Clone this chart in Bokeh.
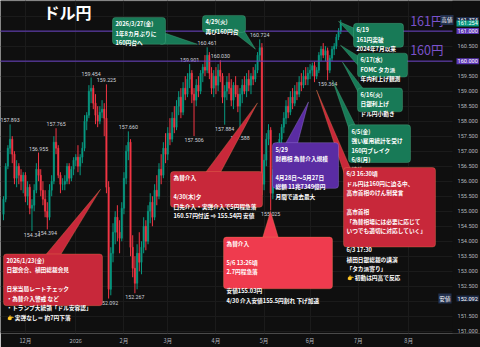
import pandas as pd
from bokeh.plotting import figure
from bokeh.models import (Range1d, FixedTicker, Label, LabelSet, BoxAnnotation,
                          PolyAnnotation, ColumnDataSource, Span)
from bokeh.embed import file_html
from bokeh.resources import INLINE
from bokeh.core.properties import value

# ---------------- data ----------------
dates = pd.bdate_range("2025-11-17", "2026-06-19")  # daily bars (weekdays)

opens = [154.9, 155.4, 156.5, 157.1, 157.4, 156.9, 156.1, 156.5, 156.2, 156.0,
         156.2, 155.5, 155.8, 155.1, 155.2, 155.7, 156.4, 156.2, 155.7, 155.4,
         155.0, 154.8, 155.7, 156.0, 157.3, 157.1, 156.2, 155.9, 155.9, 156.0,
         156.5, 156.1, 156.4, 156.7, 156.8, 156.5, 156.8, 157.1, 158.0, 158.2,
         159.0, 159.1, 158.6, 158.2, 158.0, 158.3, 158.4, 158.1, 155.8, 152.4,
         153.6, 154.3, 154.8, 154.3, 154.1, 155.1, 156.1, 157.0, 157.3, 153.8,
         153.1, 152.6, 153.6, 153.3, 153.8, 154.5, 154.0, 155.0, 155.3, 154.8,
         155.7, 155.5, 156.4, 156.2, 157.1, 156.9, 157.6, 157.4, 158.1, 157.8,
         158.5, 158.8, 158.3, 159.1, 158.9, 159.4, 159.6, 158.9, 158.7, 159.2,
         159.0, 159.6, 159.8, 159.7, 160.2, 159.6, 159.1, 159.5, 159.2, 159.7,
         159.5, 158.8, 159.0, 159.3, 159.1, 158.7, 159.2, 158.9, 158.5, 158.9,
         159.2, 159.0, 159.4, 159.2, 159.5, 159.4, 159.7, 160.2, 160.45, 155.9,
         156.7, 157.4, 157.7, 155.6, 156.2, 156.4, 157.1, 157.4, 157.8, 158.1,
         158.5, 158.3, 158.8, 158.6, 159.0, 158.9, 159.3, 159.2, 159.5, 159.4,
         159.6, 159.7, 159.85, 159.5, 159.7, 160.2, 160.4, 160.2, 160.35, 159.7,
         160.1, 160.4, 160.5, 160.8, 161.0]
highs = [155.5, 156.6, 157.2, 157.893, 157.5, 157.0, 156.7, 156.6, 156.4, 156.3,
         156.3, 156.0, 155.9, 155.4, 155.9, 156.6, 156.955, 156.4, 156.0, 155.7,
         155.3, 155.9, 156.2, 157.5, 157.765, 157.2, 156.3, 156.1, 156.2, 156.6,
         156.6, 156.5, 156.8, 156.9, 157.2, 156.9, 157.3, 158.2, 158.3, 159.2,
         159.454, 159.2, 158.9, 158.5, 158.5, 158.7, 158.6, 159.225, 156.0, 153.8,
         154.6, 155.0, 155.2, 154.7, 155.3, 156.3, 157.2, 157.66, 157.4, 154.2,
         153.5, 153.9, 154.3, 154.0, 154.8, 154.7, 155.2, 155.6, 155.5, 155.9,
         156.2, 156.6, 156.9, 157.3, 157.6, 157.8, 158.1, 158.3, 158.5, 158.7,
         159.0, 159.1, 159.3, 159.5, 159.6, 159.901, 159.7, 159.1, 159.4, 159.5,
         159.7, 159.9, 160.2, 160.461, 160.3, 159.8, 159.7, 159.8, 159.9, 160.03,
         159.6, 159.2, 159.5, 159.6, 159.4, 159.3, 159.5, 159.2, 159.1, 159.4,
         159.5, 159.6, 159.7, 159.6, 159.8, 159.9, 160.3, 160.724, 160.6, 156.9,
         157.6, 157.9, 157.8, 156.4, 156.6, 157.3, 157.6, 157.9, 158.3, 158.7,
         158.8, 159.0, 159.1, 159.2, 159.3, 159.5, 159.6, 159.7, 159.8, 159.8,
         159.9, 159.95, 159.98, 159.8, 160.3, 160.5, 160.6, 160.5, 160.45, 160.2,
         160.5, 160.6, 160.9, 161.1, 161.374]
lows = [154.7, 155.3, 156.4, 156.9, 156.6, 155.9, 155.8, 155.9, 155.7, 155.6,
        155.3, 155.2, 154.9, 154.34, 155.0, 155.6, 156.0, 155.5, 155.2, 154.8,
        154.394, 154.7, 155.5, 155.9, 156.9, 156.1, 155.6, 155.7, 155.7, 155.9,
        155.9, 156.0, 156.2, 156.5, 156.3, 156.2, 156.6, 157.0, 157.7, 158.1,
        158.6, 158.4, 157.9, 157.8, 157.9, 158.1, 157.5, 155.6, 152.092, 152.2,
        153.3, 153.9, 154.0, 153.6, 154.0, 154.9, 155.9, 156.7, 153.5, 152.8,
        152.267, 152.4, 153.0, 152.9, 153.6, 153.7, 153.9, 154.6, 154.5, 154.7,
        155.2, 155.4, 155.9, 156.1, 156.6, 156.7, 157.2, 157.3, 157.6, 157.7,
        158.2, 158.1, 158.2, 158.7, 158.8, 159.1, 158.6, 157.506, 158.5, 158.8,
        158.9, 159.3, 159.5, 159.6, 159.4, 158.9, 158.8, 158.9, 159.0, 159.3,
        158.6, 157.884, 158.7, 158.9, 158.5, 158.4, 158.8, 158.3, 157.588, 158.6,
        158.9, 158.8, 159.0, 158.9, 159.2, 159.3, 159.6, 160.0, 155.54, 155.7,
        156.5, 157.2, 155.025, 155.4, 155.9, 156.3, 156.8, 157.2, 157.6, 157.9,
        158.1, 158.2, 158.4, 158.5, 158.7, 158.8, 159.0, 159.1, 159.2, 159.2,
        159.4, 159.5, 159.3, 159.4, 159.6, 160.0, 160.1, 160.0, 159.364, 159.6,
        160.0, 160.2, 160.4, 160.7, 160.9]
closes = [155.4, 156.5, 157.1, 157.4, 156.9, 156.1, 156.5, 156.2, 156.0, 156.2,
          155.5, 155.8, 155.1, 155.2, 155.7, 156.4, 156.2, 155.7, 155.4, 155.0,
          154.8, 155.7, 156.0, 157.3, 157.1, 156.2, 155.9, 155.9, 156.0, 156.5,
          156.1, 156.4, 156.7, 156.8, 156.5, 156.8, 157.1, 158.0, 158.2, 159.0,
          159.1, 158.6, 158.2, 158.0, 158.3, 158.4, 158.1, 155.8, 152.4, 153.6,
          154.3, 154.8, 154.3, 154.1, 155.1, 156.1, 157.0, 157.3, 153.8, 153.1,
          152.6, 153.6, 153.3, 153.8, 154.5, 154.0, 155.0, 155.3, 154.8, 155.7,
          155.5, 156.4, 156.2, 157.1, 156.9, 157.6, 157.4, 158.1, 157.8, 158.5,
          158.8, 158.3, 159.1, 158.9, 159.4, 159.6, 158.9, 158.7, 159.2, 159.0,
          159.6, 159.8, 159.7, 160.2, 159.6, 159.1, 159.5, 159.2, 159.7, 159.5,
          158.8, 159.0, 159.3, 159.1, 158.7, 159.2, 158.9, 158.5, 158.9, 159.2,
          159.0, 159.4, 159.2, 159.5, 159.4, 159.7, 160.2, 160.45, 155.9, 156.7,
          157.4, 157.7, 155.6, 156.2, 156.4, 157.1, 157.4, 157.8, 158.1, 158.5,
          158.3, 158.8, 158.6, 159.0, 158.9, 159.3, 159.2, 159.5, 159.4, 159.6,
          159.7, 159.85, 159.5, 159.7, 160.2, 160.4, 160.2, 160.35, 159.7, 160.1,
          160.4, 160.5, 160.8, 161.0, 161.254]

# high / low price marks
mark_idx = [3, 13, 16, 20, 24, 40, 47, 48, 57, 60, 85, 87, 93, 99, 101, 108, 117, 122, 148]
mark_price = [157.893, 154.34, 156.955, 154.394, 157.765, 159.454, 159.225, 152.092, 157.66,
              152.267, 159.901, 157.506, 160.461, 160.030, 157.884, 157.588, 160.724, 155.025, 159.364]
mark_text = ["157.893", "154.34", "156.955", "154.394", "157.765", "159.454", "159.225", "152.092",
             "157.660", "152.267", "159.901", "157.506", "160.461", "160.030", "157.884", "157.588",
             "160.724", "155.025", "159.364"]
mark_side = ["hi", "lo", "hi", "lo", "hi", "hi", "hi", "lo", "hi", "lo", "hi", "lo", "hi", "hi",
             "lo", "lo", "hi", "lo", "lo"]

month_labels = ["12月", "2026", "2月", "3月", "4月", "5月", "6月", "7月", "8月"]
month_starts = ["2025-12-01", "2026-01-01", "2026-02-02", "2026-03-02", "2026-04-01",
                "2026-05-01", "2026-06-01", "2026-07-01", "2026-08-03"]
price_ticks = [151.0, 151.5, 152.0, 152.5, 153.0, 153.5, 154.0, 154.5, 155.0, 155.5, 156.0,
               156.5, 157.0, 157.5, 158.0, 158.5, 159.0, 159.5, 160.0, 160.5, 161.0, 161.5, 162.0]
# price-scale labels that stay visible (the others sit under the coloured tags)
scale_labels = [151.0, 151.5, 152.5, 153.0, 153.5, 154.0, 154.5, 155.0, 155.5, 156.0, 156.5,
                157.0, 157.5, 158.0, 158.5, 159.0, 159.5, 160.5]
last_price = 161.254
period_high = 161.374
period_low = 152.092

# ---------------- layout helpers (pixel -> data) ----------------
BAR_PX = 2.19
X0_PX = 3.0
PX_PER_YEN = 30.2


def X(px):
    return (px - X0_PX) / BAR_PX


def Y(py):
    return 160.0 - (py - 61.0) / PX_PER_YEN


ext = pd.bdate_range("2025-11-17", "2026-08-31")
pos = {d.strftime("%Y-%m-%d"): i for i, d in enumerate(ext)}
month_idx = [pos[m] for m in month_starts]

BG = "#0f0f0f"
UP = "#089981"
DN = "#f23645"
JP = "Noto Sans CJK JP"
NUM = "Roboto"
AXC = "#b2b5be"

p = figure(width=480, height=347, output_backend="svg", toolbar_location=None,
           x_range=Range1d(X(0), X(480)), y_range=Range1d(Y(335), Y(0)),
           y_axis_location=None, min_border_left=0, min_border_top=0,
           min_border_right=0, min_border_bottom=12,
           background_fill_color=BG, border_fill_color=BG, outline_line_color=None)

p.xaxis.ticker = FixedTicker(ticks=month_idx)
p.xaxis.major_label_overrides = {i: l for i, l in zip(month_idx, month_labels)}
p.xaxis.major_label_text_font = JP
p.xaxis.major_label_text_font_size = "5.6px"
p.xaxis.major_label_text_color = AXC
p.xaxis.major_label_standoff = 3
p.xaxis.major_tick_out = 0
p.xaxis.major_tick_in = 0
p.xaxis.minor_tick_out = 0
p.xaxis.minor_tick_in = 0
p.xaxis.axis_line_color = None

p.xgrid.ticker = FixedTicker(ticks=month_idx)
p.ygrid.ticker = FixedTicker(ticks=price_ticks)
p.xgrid.grid_line_color = "#1b1b1b"
p.ygrid.grid_line_color = "#1b1b1b"

# candles
idx = list(range(len(closes)))
cols = [UP if c >= o else DN for o, c in zip(opens, closes)]
src = ColumnDataSource(dict(x=idx, o=opens, h=highs, l=lows, c=closes,
                            top=[max(o, c) for o, c in zip(opens, closes)],
                            bot=[min(o, c) for o, c in zip(opens, closes)],
                            col=cols, date=[d.strftime("%Y-%m-%d") for d in dates]))
p.segment("x", "h", "x", "l", source=src, line_color="col", line_width=1)
p.vbar(x="x", width=0.62, top="top", bottom="bot", source=src,
       fill_color="col", line_color="col", line_width=0.5)

# level lines 160 / 161
for lv in (160.0, 161.0):
    p.add_layout(Span(location=lv, dimension="width", line_color="#6b42c8", line_width=1))

# high/low marks
hi_src = ColumnDataSource(dict(x=[i for i, s in zip(mark_idx, mark_side) if s == "hi"],
                               y=[v for v, s in zip(mark_price, mark_side) if s == "hi"],
                               t=[t for t, s in zip(mark_text, mark_side) if s == "hi"]))
lo_src = ColumnDataSource(dict(x=[i for i, s in zip(mark_idx, mark_side) if s == "lo"],
                               y=[v for v, s in zip(mark_price, mark_side) if s == "lo"],
                               t=[t for t, s in zip(mark_text, mark_side) if s == "lo"]))
p.text("x", "y", text="t", source=hi_src, text_align="center", text_baseline="bottom",
       y_offset=-2, text_font=value(NUM), text_font_size="5.3px", text_color="#d1d4dc")
p.text("x", "y", text="t", source=lo_src, text_align="center", text_baseline="top",
       y_offset=2, text_font=value(NUM), text_font_size="5.3px", text_color="#d1d4dc")

# title and level captions
p.add_layout(Label(x=X(43), y=Y(12), text="ドル円", text_font=JP, text_font_size="16px",
                   text_font_style="bold", text_color="#ffffff", text_baseline="middle"))
p.add_layout(Label(x=X(443), y=Y(20), text="161円", text_font=JP, text_font_size="12.5px",
                   text_color="#7b52cc", text_baseline="middle", text_align="right"))
p.add_layout(Label(x=X(443), y=Y(49), text="160円", text_font=JP, text_font_size="12.5px",
                   text_color="#7b52cc", text_baseline="middle", text_align="right"))

# callouts: (text, box l,t,r,b in px, tail base1, base2, tip, fill, border)
GF, GB = "#187a57", "#5cc596"
RF, RB = "#c8283a", "#f08c54"
R2 = "#ef3b4e"
PF, PB = "#5a2ca3", "#b496f2"
callouts = [
    ("2026/3/27(金)\n1年8カ月ぶりに\n160円台へ", (112, 17, 165, 44), (165, 33), (160, 44), (197, 44), GF, GB),
    ("4/29(火)\n再び160円台", (202, 15, 245, 32), (232, 31), (244, 31), (255, 49), GF, GB),
    ("6/19\n161円突破\n2024年7月以来", (353, 23, 403, 47), (354, 28), (354, 38), (338, 21), GF, GB),
    ("6/17(水)\nFOMC タカ派\n年内利上げ観測", (357, 53, 407, 77), (358, 56), (358, 66), (340, 45), GF, GB),
    ("6/16(火)\n日銀利上げ\nドル円小動き", (357, 88, 402, 112), (358, 93), (363, 89), (342, 62), GF, GB),
    ("6/5(金)\n強い雇用統計を受け\n160円ブレイク\n6/8(月)\n続伸", (348, 125, 410, 163),
     (349, 131), (355, 126), (332, 80), GF, GB),
    ("6/3 16:30頃\nドル円は160円に迫る中、\n高市首相のけん制発言\n\n高市首相\n「為替相場には必要に応じて\n"
     "いつでも適切に対応していく」\n\n6/3 17:30\n植田日銀総裁の講演\n「タカ派寄り」\n👉 初動は円高で反応",
     (343, 168, 435, 248), (344, 175), (350, 169), (316, 90), RF, RB),
    ("5/29\n財務相 為替介入規模\n\n4月28日〜5月27日\n総額 11兆7349億円\n月間で過去最大",
     (272, 143, 338, 189), (285, 144), (297, 144), (308, 102), PF, PB),
    ("為替介入\n\n4/30(木)夕\n口先介入・実弾介入で5円程急落\n160.57円付近 ⇒ 155.54円 安値",
     (170, 172, 262, 208), (205, 173), (220, 173), (257, 103), RF, RB),
    ("為替介入\n\n5/6 13:26頃\n2.7円程急落\n\n安値155.03円\n4/30 介入安値155.5円割れ 下げ加速",
     (223, 238, 332, 290), (262, 239), (278, 239), (270, 212), R2, RB),
    ("2026/1/23(金)\n日銀会合、植田総裁会見\n\n日米当局レートチェック\n・為替介入警戒 など\n"
     "・トランプ大統領「ドル安容認」\n👉 実弾なし＝ 約7円下落",
     (3, 255, 102, 307), (45, 256), (60, 256), (100, 190), RF, RB),
]
for text, (l, t, r, b), b1, b2, tip, fc, bc in callouts:
    p.add_layout(PolyAnnotation(xs=[X(b1[0]), X(tip[0]), X(b2[0])], ys=[Y(b1[1]), Y(tip[1]), Y(b2[1])],
                                fill_color=fc, fill_alpha=1, line_color=bc, line_width=1))
for text, (l, t, r, b), b1, b2, tip, fc, bc in callouts:
    p.add_layout(BoxAnnotation(left=X(l), right=X(r), top=Y(t), bottom=Y(b), fill_color=fc,
                               fill_alpha=1, line_color=bc, line_width=1, border_radius=3))
    p.add_layout(Label(x=X(l + 3), y=Y(t + 2), text=text, text_font=JP, text_font_size="5.7px",
                       text_font_style="bold", text_color="#ffffff", text_baseline="top",
                       text_align="left", text_line_height=1.05))

# price scale (right strip)
p.add_layout(BoxAnnotation(left=X(452), fill_color=BG, fill_alpha=1, line_color=None))
scale_src = ColumnDataSource(dict(x=[X(457)] * len(scale_labels), y=scale_labels,
                                  t=[f"{v:.3f}" for v in scale_labels]))
p.add_layout(LabelSet(x="x", y="y", text="t", source=scale_src, text_font=value(NUM),
                      text_font_size="5.6px", text_color=AXC, text_baseline="middle",
                      text_align="left"))

tags = [("高値", period_high, "#22304d", 453, "right"),
        (f"{period_high:.3f}", period_high, "#1c2a48", 456, "left"),
        (f"{last_price:.3f}", last_price, UP, 456, "left"),
        ("161.000", 161.0, "#5b36b5", 456, "left"),
        ("160.000", 160.0, "#5b36b5", 456, "left"),
        ("安値", period_low, "#22304d", 451, "right"),
        (f"{period_low:.3f}", period_low, "#1c2a48", 456, "left")]
for text, yv, bg, xp, al in tags:
    p.add_layout(Label(x=X(xp), y=yv, text=text, text_font=NUM if text[0].isdigit() else JP,
                       text_font_size="5.6px", text_color="#ffffff", text_baseline="middle",
                       text_align=al, background_fill_color=bg, background_fill_alpha=1,
                       padding=1))

open("out.html", "w").write(file_html(p, INLINE))
